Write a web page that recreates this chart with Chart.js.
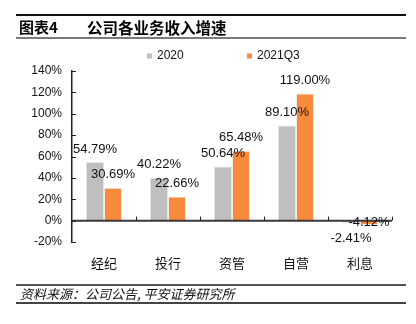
<!DOCTYPE html>
<html>
<head>
<meta charset="utf-8">
<script src="https://cdn.jsdelivr.net/npm/chart.js@4/dist/chart.umd.min.js"></script>
<style>
  html, body { margin: 0; padding: 0; background: #fff; }
  #wrap { position: relative; width: 416px; height: 324px; overflow: hidden; }
  #c { position: absolute; left: 0; top: 0; }
  .line { position: absolute; left: 16px; width: 390px; }
  .txt { position: absolute; white-space: nowrap; color: #000; }
</style>
</head>
<body>
<div id="wrap">
  <canvas id="c" width="416" height="324"></canvas>
  <div class="line" style="top:14px;height:2px;background:#111;"></div>
  <div class="txt" style="left:19px;top:17px;font:bold 15px 'Noto Sans CJK SC';line-height:20px;">图表4</div>
  <div class="txt" style="left:87px;top:17px;font:bold 15.5px 'Noto Sans CJK SC';line-height:20px;">公司各业务收入增速</div>
  <div class="line" style="top:37px;height:2px;background:#7a7a7a;"></div>
  <div class="line" style="top:284px;height:2px;background:#555;"></div>
  <div class="txt" style="left:20px;top:285px;font:italic 13px 'Noto Sans CJK SC';line-height:17px;color:#111;">资料来源：公司公告, 平安证券研究所</div>
  <div class="line" style="top:302px;height:2px;background:#444;"></div>
</div>
<script>
const categories = ['经纪', '投行', '资管', '自营', '利息'];
const seriesNames = ['2020', '2021Q3'];
const values2020 = [54.79, 40.22, 50.64, 89.10, -2.41];
const values2021Q3 = [30.69, 22.66, 65.48, 119.00, -4.12];
const yTicks = [-20, 0, 20, 40, 60, 80, 100, 120, 140];

const colors = ['#BFBFBF', '#F98A3B'];
const NUM_FONT = "'Liberation Sans', Arial, sans-serif";

const labelPlugin = {
  id: 'valueLabels',
  afterDatasetsDraw(chart) {
    const ctx = chart.ctx;
    ctx.save();
    ctx.font = '13px ' + NUM_FONT;
    ctx.fillStyle = '#111';
    ctx.textAlign = 'center';
    ctx.textBaseline = 'middle';
    const negShift = [15, -3];
    chart.data.datasets.forEach((ds, di) => {
      const meta = chart.getDatasetMeta(di);
      meta.data.forEach((el, i) => {
        const v = ds.data[i];
        const y = v >= 0 ? el.y - 13 : el.y + negShift[di];
        ctx.fillText(v.toFixed(2) + '%', el.x, y);
      });
    });
    ctx.restore();
  }
};

const axisPlugin = {
  id: 'axisDecor',
  afterDatasetsDraw(chart) {
    const ctx = chart.ctx;
    const xs = chart.scales.x, ys = chart.scales.y;
    const y0 = ys.getPixelForValue(0);
    const left = chart.chartArea.left, right = chart.chartArea.right;
    ctx.save();
    // zero axis line
    ctx.strokeStyle = '#3a3a3a';
    ctx.lineWidth = 2;
    ctx.beginPath();
    ctx.moveTo(left, y0);
    ctx.lineTo(right, y0);
    ctx.stroke();
    // category boundary ticks
    ctx.lineWidth = 1;
    ctx.strokeStyle = '#222';
    const n = categories.length;
    const step = (right - left) / n;
    for (let k = 1; k <= n; k++) {
      const x = Math.round(left + step * k) + 0.5;
      ctx.beginPath();
      ctx.moveTo(x, y0);
      ctx.lineTo(x, y0 - 4);
      ctx.stroke();
    }
    // y axis inside ticks
    ys.ticks.forEach(t => {
      const y = Math.round(ys.getPixelForValue(t.value)) + 0.5;
      ctx.beginPath();
      ctx.moveTo(left, y);
      ctx.lineTo(left + 4, y);
      ctx.stroke();
    });
    ctx.restore();
  }
};

const legendPlugin = {
  id: 'customLegend',
  afterDraw(chart) {
    const ctx = chart.ctx;
    const xsPos = [147, 247];
    const yc = 56;
    ctx.save();
    ctx.font = '12px ' + NUM_FONT;
    ctx.textBaseline = 'middle';
    ctx.textAlign = 'left';
    chart.data.datasets.forEach((ds, i) => {
      ctx.fillStyle = ds.backgroundColor;
      ctx.fillRect(xsPos[i], yc - 2.5, 5, 5);
      ctx.fillStyle = '#111';
      ctx.fillText(ds.label, xsPos[i] + 10, yc);
    });
    ctx.restore();
  }
};

new Chart(document.getElementById('c'), {
  type: 'bar',
  data: {
    labels: categories,
    datasets: [
      { label: seriesNames[0], data: values2020, backgroundColor: colors[0], borderColor: '#e4e4e4', borderWidth: 1 },
      { label: seriesNames[1], data: values2021Q3, backgroundColor: colors[1], borderColor: '#ececec', borderWidth: 1 }
    ]
  },
  options: {
    responsive: false,
    animation: false,
    devicePixelRatio: 1,
    layout: { padding: { left: 0, right: 24, top: 71, bottom: 0 } },
    datasets: { bar: { categoryPercentage: 0.5625, barPercentage: 1 } },
    plugins: { legend: { display: false }, tooltip: { enabled: false }, title: { display: false } },
    scales: {
      x: {
        grid: { display: false, drawTicks: false },
        border: { display: false },
        ticks: { font: { family: "'Noto Sans CJK SC'", size: 13 }, color: '#111', padding: 13 },
        afterFit(s) { s.height = 82; }
      },
      y: {
        min: -20, max: 140,
        afterBuildTicks(s) { s.ticks = yTicks.map(v => ({ value: v })); },
        grid: { display: false, drawTicks: false },
        border: { display: true, color: '#222', width: 1.5 },
        ticks: { font: { family: NUM_FONT, size: 12 }, color: '#111', padding: 10, callback: v => v + '%' },
        afterFit(s) { s.width = 72; }
      }
    }
  },
  plugins: [axisPlugin, labelPlugin, legendPlugin]
});
</script>
</body>
</html>
